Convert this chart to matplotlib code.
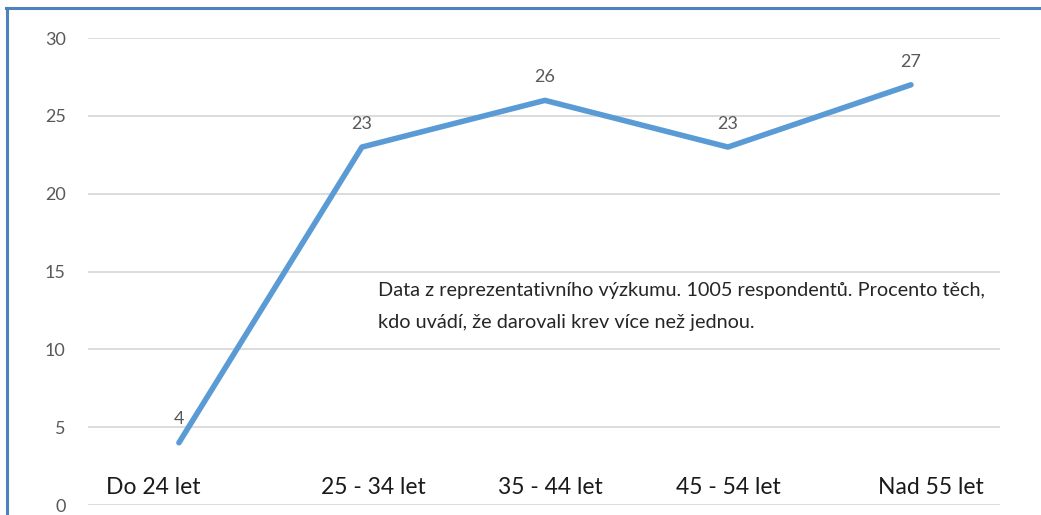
import matplotlib.pyplot as plt
from matplotlib.lines import Line2D

categories = ["Do 24 let", "25 - 34 let", "35 - 44 let", "45 - 54 let", "Nad 55 let"]
values = [4, 23, 26, 23, 27]
# small shifts of the category labels as in the original
label_shift = [-0.14, 0.06, 0.03, 0.0, 0.11]
note = ("Data z reprezentativního výzkumu. 1005 respondentů. Procento těch,\n"
        "kdo uvádí, že darovali krev více než jednou.")

plt.rcParams['font.family'] = ['Lato', 'DejaVu Sans']

fig = plt.figure(figsize=(10.41, 5.15), dpi=100)
ax = fig.add_axes([0.0845, 0.0194, 0.876, 0.9066])

xs = range(len(categories))
ax.plot(xs, values, color='#5b9bd5', lw=4, solid_capstyle='round', zorder=3)

for x, v in zip(xs, values):
    ax.annotate(str(v), (x, v), xytext=(0, 11), textcoords='offset points',
                ha='center', va='bottom', fontsize=13, color='#595959')

for x, lab, dx in zip(xs, categories, label_shift):
    ax.text(x + dx, 0.45, lab, ha='center', va='bottom', fontsize=16.5, color='#1a1a1a')

ax.text(1.09, 12.75, note, ha='left', va='center', fontsize=14.3,
        color='#262626', linespacing=2.05)

ax.set_xlim(-0.497, 4.486)
ax.set_ylim(0, 30)
ax.set_yticks(range(0, 31, 5))
ax.set_xticks([])
ax.yaxis.grid(True, color='#d9d9d9', lw=1.3)
ax.set_axisbelow(True)
ax.tick_params(axis='y', length=0, pad=16, labelsize=13, labelcolor='#595959')
for s in ax.spines.values():
    s.set_visible(False)

# blue frame on left and top edge
fig.add_artist(Line2D([0.0068, 0.0068], [0, 0.985], color='#4f81bd', lw=2.2))
fig.add_artist(Line2D([0.0058, 1.0], [0.985, 0.985], color='#4f81bd', lw=2.2))

fig.savefig('out.png', dpi=100)
